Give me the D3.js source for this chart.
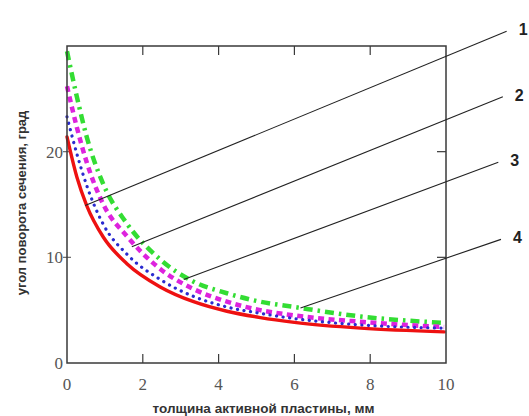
<!DOCTYPE html>
<html>
<head>
<meta charset="utf-8">
<script src="https://cdn.jsdelivr.net/npm/d3@7"></script>
<style>
  body { margin: 0; background: #fff; }
  svg { display: block; }
  .tick-label { font-family: "Liberation Serif", "Times New Roman", "DejaVu Serif", serif; font-size: 17px; fill: #555; }
</style>
</head>
<body>
<div id="chart"></div>
<script>
// x values (мм) for the read-off points
var xs = [0, 0.26, 0.52, 0.96, 1.58, 2.46, 3.34, 4.22, 5.1, 6.0, 7.75, 9.95];
// curve 1 - red solid
var curve1 = [21.4, 17.6, 14.9, 11.9, 9.4, 7.2, 5.8, 4.9, 4.3, 3.85, 3.3, 2.95];
// curve 2 - blue dotted
var curve2 = [23.3, 19.8, 16.8, 13.1, 10.3, 7.9, 6.3, 5.3, 4.7, 4.2, 3.6, 3.3];
// curve 3 - magenta dashed
var curve3 = [26.2, 22.3, 19.0, 15.0, 12.0, 8.9, 7.0, 5.8, 5.0, 4.5, 3.9, 3.4];
// curve 4 - green dash-dot
var curve4 = [29.5, 25.2, 21.4, 16.9, 13.2, 9.8, 7.7, 6.6, 5.8, 5.3, 4.4, 3.8];

var xTicks = [0, 2, 4, 6, 8, 10];
var yTicks = [0, 10, 20];
var labels = ["1", "2", "3", "4"];
// leader lines: point on curve -> label end (data coords, ends lie outside the frame)
var leadFrom = [[0.48, 14.9], [1.71, 11.0], [3.08, 7.9], [6.16, 5.2]];
var leadTo = [[11.6, 31.4], [11.5, 25.2], [11.38, 19.0], [11.45, 11.7]];

var width = 529, height = 416;
var margin = {top: 46, right: 83, bottom: 53, left: 67};

var svg = d3.select("#chart").append("svg")
  .attr("width", width)
  .attr("height", height);

var x = d3.scaleLinear().domain([0, 10]).range([margin.left, width - margin.right]);
var y = d3.scaleLinear().domain([0, 30]).range([height - margin.bottom, margin.top]);

var frameColor = "#3a3a3a";
var tickColor = "#666";

// ticks on all four sides, pointing in
var inner = xTicks.filter(function(d) { return d > 0 && d < 10; });
svg.selectAll(".xtb").data(inner).enter().append("line")
  .attr("x1", function(d) { return x(d); }).attr("x2", function(d) { return x(d); })
  .attr("y1", y(0)).attr("y2", y(0) - 9)
  .attr("stroke", frameColor).attr("stroke-width", 1.2);
svg.selectAll(".xtt").data(inner).enter().append("line")
  .attr("x1", function(d) { return x(d); }).attr("x2", function(d) { return x(d); })
  .attr("y1", y(30)).attr("y2", y(30) + 9)
  .attr("stroke", frameColor).attr("stroke-width", 1.2);
var yin = yTicks.filter(function(d) { return d > 0; });
svg.selectAll(".ytl").data(yin).enter().append("line")
  .attr("x1", x(0) - 4).attr("x2", x(0) + 4)
  .attr("y1", function(d) { return y(d); }).attr("y2", function(d) { return y(d); })
  .attr("stroke", tickColor).attr("stroke-width", 1.2);
svg.selectAll(".ytr").data(yin).enter().append("line")
  .attr("x1", x(10)).attr("x2", x(10) - 9)
  .attr("y1", function(d) { return y(d); }).attr("y2", function(d) { return y(d); })
  .attr("stroke", frameColor).attr("stroke-width", 1.2);

// tick labels
svg.selectAll(".xl").data(xTicks).enter().append("text")
  .attr("class", "tick-label")
  .attr("x", function(d) { return x(d); })
  .attr("y", y(0) + 27)
  .attr("text-anchor", "middle")
  .text(function(d) { return d; });
svg.selectAll(".yl").data(yTicks).enter().append("text")
  .attr("class", "tick-label")
  .attr("x", x(0) - 4)
  .attr("y", function(d) { return y(d) + 6; })
  .attr("text-anchor", "end")
  .text(function(d) { return d; });

// curves
var series = [
  {v: curve1, color: "#ee1111", w: 3.4, dash: null, cap: "round"},
  {v: curve2, color: "#2a2ad0", w: 3.2, dash: "0.1 6.5", cap: "round"},
  {v: curve3, color: "#dd22dd", w: 4.5, dash: "6 4.5", cap: "butt"},
  {v: curve4, color: "#33dd33", w: 4.5, dash: "9 5 2.5 5", cap: "butt"}
];
var line = d3.line()
  .x(function(d, i) { return x(xs[i]); })
  .y(function(d) { return y(d); })
  .curve(d3.curveMonotoneX);

series.slice().reverse().forEach(function(s) {
  svg.append("path")
    .datum(s.v)
    .attr("d", line)
    .attr("fill", "none")
    .attr("stroke", s.color)
    .attr("stroke-width", s.w)
    .attr("stroke-linecap", s.cap)
    .attr("stroke-dasharray", s.dash);
});

// frame
svg.append("rect")
  .attr("x", x(0)).attr("y", y(30))
  .attr("width", x(10) - x(0)).attr("height", y(0) - y(30))
  .attr("fill", "none").attr("stroke", frameColor).attr("stroke-width", 1.5);

// leader lines + numbers
svg.selectAll(".lead").data(leadFrom).enter().append("line")
  .attr("x1", function(d) { return x(d[0]); })
  .attr("y1", function(d) { return y(d[1]); })
  .attr("x2", function(d, i) { return x(leadTo[i][0]); })
  .attr("y2", function(d, i) { return y(leadTo[i][1]); })
  .attr("stroke", "#222").attr("stroke-width", 1.1);

svg.selectAll(".num").data(labels).enter().append("text")
  .attr("x", function(d, i) { return x(leadTo[i][0]) + 12; })
  .attr("y", function(d, i) { return y(leadTo[i][1]) + 4; })
  .style("font-family", "'Liberation Sans', Arial, sans-serif")
  .style("font-weight", "bold")
  .style("font-size", "16px")
  .style("fill", "#222")
  .text(function(d) { return d; });

// axis titles
svg.append("text")
  .attr("x", (x(0) + x(10)) / 2 + 7)
  .attr("y", 413)
  .attr("text-anchor", "middle")
  .style("font-family", "'Liberation Sans', Arial, sans-serif")
  .style("font-weight", "bold")
  .style("font-size", "13.5px")
  .style("fill", "#333")
  .text("толщина активной пластины, мм");

svg.append("text")
  .attr("transform", "translate(26," + 203 + ")rotate(-90)")
  .attr("text-anchor", "middle")
  .style("font-family", "'Liberation Sans', Arial, sans-serif")
  .style("font-weight", "bold")
  .style("font-size", "13px")
  .style("fill", "#333")
  .text("угол поворота сечения, град");
</script>
</body>
</html>
